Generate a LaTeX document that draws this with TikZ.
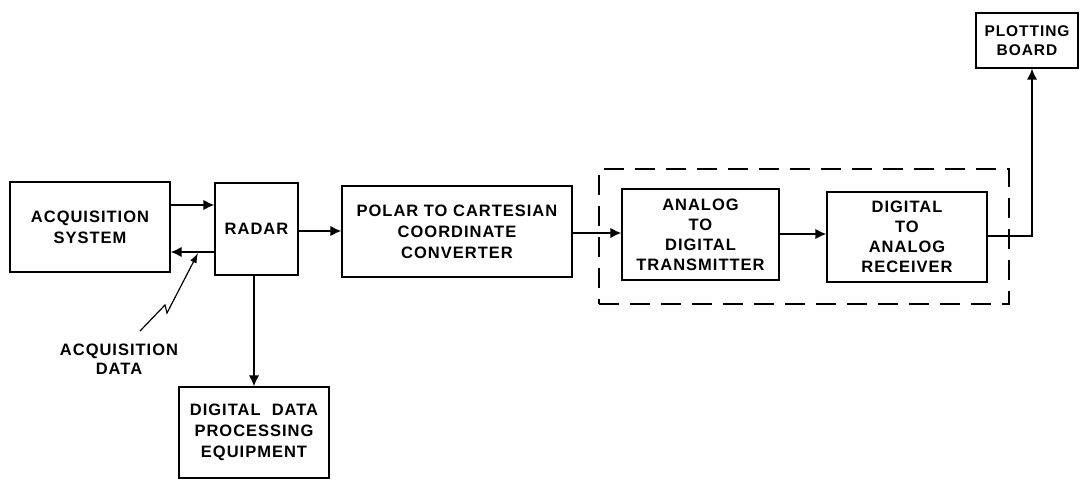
\documentclass[tikz,border=0pt]{standalone}
\usepackage{fontspec}
\setmainfont[LetterSpace=6]{Liberation Sans}
\usetikzlibrary{arrows.meta,calc}
\begin{document}
\begin{tikzpicture}[x=1pt,y=-1pt,
  box/.style={draw,line width=1.4pt,inner sep=0pt,align=center,font=\bfseries\fontsize{16.5}{21}\selectfont},
  dashbox/.style={draw,line width=1.4pt,dash pattern=on 20pt off 11pt,inner sep=0pt},
  conn/.style={line width=1.6pt,-{Latex[length=11pt,width=10.5pt]}},
  lbl/.style={align=center,font=\bfseries\fontsize{16.5}{18.5}\selectfont,inner sep=0pt}]
\useasboundingbox (0,0) rectangle (1083,479);
\node[box,minimum width=160pt,minimum height=90pt] (acq) at (90,227) {ACQUISITION\\SYSTEM};
\node[box,minimum width=83pt,minimum height=92pt] (radar) at (256.5,229) {RADAR};
\node[box,minimum width=230pt,minimum height=91pt] (polar) at (457,231.5) {POLAR TO CARTESIAN\\COORDINATE\\CONVERTER};
\node[dashbox,minimum width=410pt,minimum height=135pt] (dash) at (804,236.5) {};
\node[box,minimum width=157pt,minimum height=91pt,font=\bfseries\fontsize{16.5}{20}\selectfont] (ad) at (700.5,234.5) {ANALOG\\TO\\DIGITAL\\TRANSMITTER};
\node[box,minimum width=160pt,minimum height=90pt,font=\bfseries\fontsize{16.5}{20}\selectfont] (da) at (907,237) {DIGITAL\\TO\\ANALOG\\RECEIVER};
\node[box,minimum width=102pt,minimum height=55pt,font=\bfseries\fontsize{15.5}{19}\selectfont] (board) at (1027,40.5) {PLOTTING\\BOARD};
\node[box,minimum width=150pt,minimum height=91pt] (ddp) at (254,432.5) {DIGITAL\ \ DATA\\PROCESSING\\EQUIPMENT};
\node[lbl] (acqdata) at (119,359) {ACQUISITION\\DATA};
\coordinate (zs) at (140,331);
\coordinate (zt) at (198,253);
\coordinate (bend) at (1032,236);
\draw[conn] (acq.east|-0,205) -- (radar.west|-0,205);
\draw[conn] (radar.west|-0,252) -- (acq.east|-0,252);
\draw[conn] (radar.east|-0,231) -- (polar.west|-0,231);
\draw[conn] (polar.east|-0,233) -- (ad.west|-0,233);
\draw[conn] (ad.east|-0,234) -- (da.west|-0,234);
\draw[conn] (da.east|-bend) -- (bend) -- (board.south-|bend);
\draw[conn] (radar.south-|254,0) -- (ddp.north-|254,0);
\draw[line width=1.2pt,-{Latex[length=10pt,width=7pt]}] (zs) -- (165,305) -- (167,313) -- (zt);
\end{tikzpicture}
\end{document}
